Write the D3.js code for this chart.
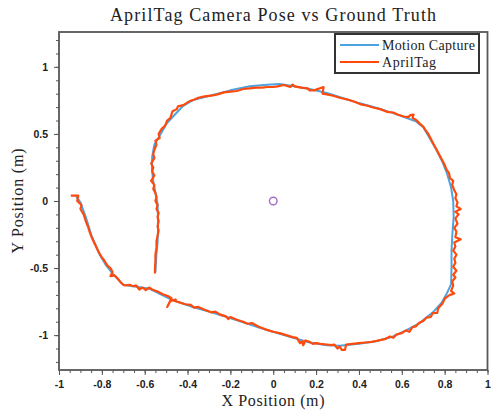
<!DOCTYPE html>
<html>
<head>
<meta charset="utf-8">
<script src="https://cdn.jsdelivr.net/npm/d3@7"></script>
<style>
  body { margin: 0; background: #fff; }
</style>
</head>
<body>
<svg id="viz" width="492" height="413"></svg>
<script>
const svg = d3.select("#viz");
const width = +svg.attr("width");
const height = +svg.attr("height");
const margin = { top: 32, right: 4, bottom: 43, left: 59 };

// motion capture trajectory (x, y in metres)
const mocapX = [-0.92, -0.90, -0.875, -0.85, -0.81, -0.78, -0.745, -0.70, -0.64, -0.576, -0.52, -0.468, -0.375, -0.30, -0.217, -0.14, -0.063, 0.05, 0.17, 0.25, 0.31, 0.40, 0.48, 0.557, 0.62, 0.683, 0.745, 0.785, 0.81, 0.83, 0.832, 0.832, 0.836, 0.842, 0.84, 0.83, 0.81, 0.79, 0.762, 0.73, 0.70, 0.665, 0.62, 0.557, 0.48, 0.40, 0.32, 0.25, 0.17, 0.09, 0.03, -0.03, -0.11, -0.20, -0.282, -0.375, -0.42, -0.45, -0.497, -0.529, -0.555, -0.565, -0.566, -0.56, -0.552, -0.54, -0.538, -0.538, -0.54, -0.545, -0.548, -0.55];
const mocapY = [0.035, -0.01, -0.12, -0.25, -0.40, -0.48, -0.55, -0.625, -0.64, -0.655, -0.70, -0.74, -0.79, -0.825, -0.865, -0.905, -0.945, -1.0, -1.055, -1.075, -1.08, -1.065, -1.045, -1.012, -0.965, -0.91, -0.83, -0.76, -0.69, -0.62, -0.50, -0.37, -0.25, -0.12, 0.0, 0.10, 0.21, 0.29, 0.38, 0.47, 0.55, 0.595, 0.62, 0.657, 0.695, 0.73, 0.77, 0.805, 0.835, 0.858, 0.872, 0.866, 0.855, 0.825, 0.79, 0.752, 0.71, 0.66, 0.58, 0.49, 0.42, 0.33, 0.23, 0.15, 0.08, -0.02, -0.12, -0.22, -0.31, -0.39, -0.47, -0.53];

// apriltag estimate (x, y in metres)
const tagX = [-0.945, -0.91, -0.915, -0.895, -0.90, -0.885, -0.875, -0.865, -0.855, -0.845, -0.83, -0.815, -0.80, -0.79, -0.775, -0.76, -0.75, -0.76, -0.74, -0.725, -0.71, -0.695, -0.67, -0.655, -0.64, -0.625, -0.61, -0.595, -0.58, -0.565, -0.54, -0.515, -0.49, -0.475, -0.495, -0.48, -0.455, -0.47, -0.44, -0.41, -0.385, -0.37, -0.35, -0.32, -0.29, -0.27, -0.25, -0.22, -0.21, -0.20, -0.17, -0.14, -0.12, -0.10, -0.07, -0.04, 0.0, 0.03, 0.06, 0.09, 0.11, 0.125, 0.135, 0.14, 0.15, 0.17, 0.185, 0.20, 0.22, 0.25, 0.27, 0.285, 0.30, 0.31, 0.32, 0.335, 0.34, 0.37, 0.40, 0.43, 0.46, 0.49, 0.52, 0.545, 0.56, 0.575, 0.60, 0.62, 0.635, 0.65, 0.665, 0.68, 0.70, 0.715, 0.735, 0.745, 0.765, 0.77, 0.79, 0.80, 0.81, 0.825, 0.845, 0.83, 0.84, 0.835, 0.85, 0.84, 0.855, 0.84, 0.85, 0.845, 0.855, 0.84, 0.85, 0.845, 0.875, 0.85, 0.855, 0.845, 0.86, 0.85, 0.865, 0.85, 0.875, 0.855, 0.86, 0.85, 0.855, 0.845, 0.835, 0.84, 0.825, 0.82, 0.81, 0.80, 0.79, 0.78, 0.77, 0.76, 0.75, 0.74, 0.73, 0.72, 0.71, 0.70, 0.685, 0.67, 0.65, 0.655, 0.64, 0.63, 0.61, 0.58, 0.56, 0.53, 0.50, 0.47, 0.44, 0.41, 0.38, 0.35, 0.31, 0.28, 0.25, 0.23, 0.235, 0.19, 0.17, 0.16, 0.13, 0.10, 0.09, 0.08, 0.05, 0.02, 0.0, -0.03, -0.05, -0.08, -0.11, -0.14, -0.17, -0.20, -0.23, -0.26, -0.29, -0.32, -0.35, -0.37, -0.39, -0.40, -0.42, -0.445, -0.45, -0.47, -0.48, -0.495, -0.505, -0.52, -0.535, -0.53, -0.55, -0.545, -0.555, -0.56, -0.555, -0.57, -0.56, -0.565, -0.555, -0.57, -0.555, -0.56, -0.55, -0.545, -0.55, -0.54, -0.545, -0.535, -0.54, -0.535, -0.54, -0.535, -0.54, -0.545, -0.545, -0.55, -0.55, -0.552, -0.552];
const tagY = [0.04, 0.04, 0.0, -0.03, -0.06, -0.10, -0.15, -0.19, -0.24, -0.28, -0.33, -0.38, -0.42, -0.44, -0.48, -0.50, -0.53, -0.56, -0.555, -0.58, -0.61, -0.63, -0.625, -0.635, -0.63, -0.66, -0.645, -0.665, -0.645, -0.66, -0.675, -0.695, -0.71, -0.725, -0.79, -0.745, -0.735, -0.74, -0.755, -0.77, -0.775, -0.795, -0.79, -0.81, -0.83, -0.825, -0.845, -0.86, -0.88, -0.865, -0.885, -0.90, -0.915, -0.91, -0.935, -0.955, -0.975, -0.985, -1.0, -1.015, -1.02, -1.06, -1.045, -1.075, -1.04, -1.05, -1.065, -1.06, -1.065, -1.07, -1.075, -1.07, -1.10, -1.085, -1.11, -1.11, -1.07, -1.065, -1.06, -1.055, -1.05, -1.04, -1.03, -1.01, -1.02, -0.995, -0.985, -0.965, -0.975, -0.94, -0.935, -0.91, -0.895, -0.87, -0.865, -0.835, -0.835, -0.80, -0.765, -0.73, -0.715, -0.70, -0.69, -0.67, -0.63, -0.60, -0.57, -0.55, -0.52, -0.49, -0.46, -0.43, -0.40, -0.37, -0.34, -0.31, -0.285, -0.27, -0.23, -0.20, -0.17, -0.13, -0.10, -0.08, -0.06, -0.04, -0.01, 0.02, 0.05, 0.08, 0.12, 0.15, 0.17, 0.21, 0.23, 0.27, 0.30, 0.33, 0.36, 0.39, 0.42, 0.45, 0.48, 0.51, 0.53, 0.555, 0.575, 0.60, 0.62, 0.645, 0.64, 0.625, 0.63, 0.645, 0.66, 0.665, 0.685, 0.695, 0.71, 0.72, 0.74, 0.755, 0.77, 0.785, 0.795, 0.80, 0.85, 0.825, 0.825, 0.84, 0.845, 0.855, 0.868, 0.85, 0.865, 0.855, 0.85, 0.85, 0.845, 0.845, 0.84, 0.835, 0.82, 0.815, 0.81, 0.795, 0.785, 0.78, 0.77, 0.755, 0.745, 0.735, 0.715, 0.705, 0.685, 0.67, 0.62, 0.60, 0.56, 0.54, 0.50, 0.47, 0.45, 0.42, 0.38, 0.35, 0.32, 0.28, 0.25, 0.22, 0.19, 0.15, 0.12, 0.09, 0.06, 0.03, 0.0, -0.03, -0.06, -0.09, -0.12, -0.15, -0.19, -0.22, -0.26, -0.30, -0.35, -0.40, -0.45, -0.50, -0.54];

// tag location
const originX = [0];
const originY = [0];

const seriesNames = ["Motion Capture", "AprilTag"];
const seriesColors = ["#4da3df", "#ff4a0c"];
const xTicks = [-1, -0.8, -0.6, -0.4, -0.2, 0, 0.2, 0.4, 0.6, 0.8, 1];
const yTicks = [-1, -0.5, 0, 0.5, 1];

const x = d3.scaleLinear().domain([-1, 1]).range([margin.left, width - margin.right - 0.5]);
const y = d3.scaleLinear().domain([-1.26, 1.26]).range([height - margin.bottom, margin.top]);

const fmt = d => d === 0 ? "0" : String(d);

// minor ticks
const xAxisMinor = d3.axisBottom(x).tickValues(d3.range(-20, 21).map(i => i * 0.05)).tickSize(3).tickFormat("");
const yAxisMinor = d3.axisLeft(y).tickValues(d3.range(-12, 13).map(i => i * 0.1)).tickSize(3).tickFormat("");

svg.append("g").attr("transform", `translate(0,${height - margin.bottom})`).call(xAxisMinor)
  .call(g => g.select(".domain").remove())
  .selectAll("line").attr("stroke", "#555");
svg.append("g").attr("transform", `translate(${margin.left},0)`).call(yAxisMinor)
  .call(g => g.select(".domain").remove())
  .selectAll("line").attr("stroke", "#555");

const xAxis = svg.append("g")
  .attr("transform", `translate(0,${height - margin.bottom})`)
  .call(d3.axisBottom(x).tickValues(xTicks).tickSize(5).tickPadding(6).tickFormat(fmt));
xAxis.select(".domain").remove();
xAxis.selectAll("line").attr("stroke", "#555");
xAxis.selectAll("text")
  .attr("font-family", "Liberation Sans, Arial, sans-serif")
  .attr("font-weight", "bold").attr("font-size", "10.5px").attr("fill", "#222");

const yAxis = svg.append("g")
  .attr("transform", `translate(${margin.left},0)`)
  .call(d3.axisLeft(y).tickValues(yTicks).tickSize(5).tickPadding(6).tickFormat(fmt));
yAxis.select(".domain").remove();
yAxis.selectAll("line").attr("stroke", "#555");
yAxis.selectAll("text")
  .attr("font-family", "Liberation Sans, Arial, sans-serif")
  .attr("font-weight", "bold").attr("font-size", "10.5px").attr("fill", "#222");

// plot box
svg.append("rect")
  .attr("x", x(-1))
  .attr("y", y(1.26))
  .attr("width", x(1) - x(-1))
  .attr("height", y(-1.26) - y(1.26))
  .attr("fill", "none")
  .attr("stroke", "#575757")
  .attr("stroke-width", 1.8);

const line = d3.line().x(d => x(d[0])).y(d => y(d[1]));
const mocap = mocapX.map((v, i) => [v, mocapY[i]]);
const tag = tagX.map((v, i) => [v, tagY[i]]);

svg.append("path").datum(mocap)
  .attr("fill", "none").attr("stroke", seriesColors[0]).attr("stroke-width", 2)
  .attr("stroke-linejoin", "round").attr("d", line);
svg.append("path").datum(tag)
  .attr("fill", "none").attr("stroke", seriesColors[1]).attr("stroke-width", 2.2)
  .attr("stroke-linejoin", "round").attr("d", line);

svg.selectAll(".origin")
  .data(originX.map((v, i) => [v, originY[i]]))
  .join("circle")
  .attr("cx", d => x(d[0])).attr("cy", d => y(d[1]))
  .attr("r", 3.8)
  .attr("fill", "none").attr("stroke", "#a66cc8").attr("stroke-width", 1.4);

// title and labels
svg.append("text")
  .attr("x", 273).attr("y", 21)
  .attr("text-anchor", "middle")
  .attr("font-family", "Liberation Serif, serif")
  .attr("font-size", "18px")
  .attr("textLength", 326).attr("lengthAdjust", "spacing")
  .attr("fill", "#222")
  .text("AprilTag Camera Pose vs Ground Truth");

svg.append("text")
  .attr("x", 273).attr("y", 406)
  .attr("text-anchor", "middle")
  .attr("font-family", "Liberation Serif, serif")
  .attr("font-size", "16px")
  .attr("textLength", 103).attr("lengthAdjust", "spacing")
  .attr("fill", "#222")
  .text("X Position (m)");

svg.append("text")
  .attr("transform", `translate(23,${y(0)}) rotate(-90)`)
  .attr("text-anchor", "middle")
  .attr("font-family", "Liberation Serif, serif")
  .attr("font-size", "16px")
  .attr("textLength", 105).attr("lengthAdjust", "spacing")
  .attr("fill", "#222")
  .text("Y Position (m)");

// legend
const legend = svg.append("g").attr("transform", "translate(335,34)");
legend.append("rect")
  .attr("width", 144).attr("height", 39)
  .attr("fill", "#fff").attr("stroke", "#333").attr("stroke-width", 2);
seriesNames.forEach((name, i) => {
  const g = legend.append("g").attr("transform", `translate(0,${11 + i * 17})`);
  g.append("line").attr("x1", 5).attr("x2", 44).attr("y1", 0).attr("y2", 0)
    .attr("stroke", seriesColors[i]).attr("stroke-width", 2);
  g.append("text").attr("x", 47).attr("y", 4.5)
    .attr("font-family", "Liberation Serif, serif")
    .attr("font-size", "14px")
    .attr("textLength", i === 0 ? 93 : 54).attr("lengthAdjust", "spacing")
    .attr("fill", "#222")
    .text(name);
});
</script>
</body>
</html>
